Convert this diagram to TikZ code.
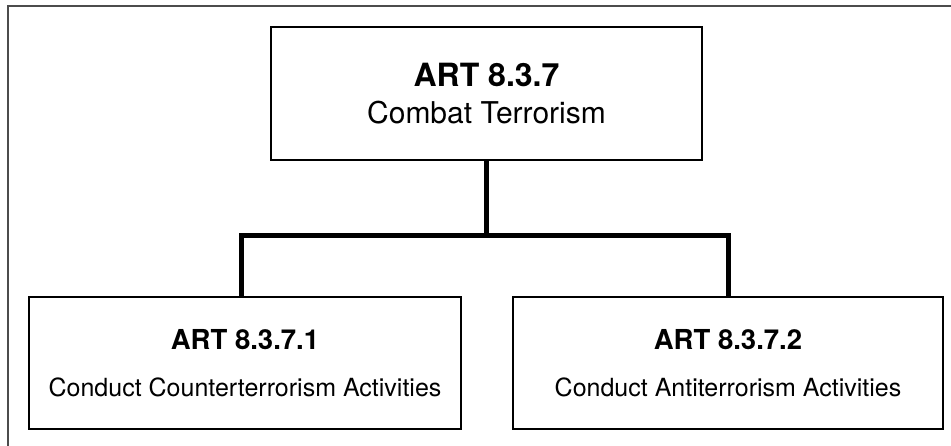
\documentclass[tikz,border=0pt]{standalone}
\usepackage{fontspec}
\setmainfont{TeX Gyre Heros}
\usetikzlibrary{positioning}
\tikzset{
  artbox/.style={draw=black,line width=2pt,fill=white,align=center,inner sep=0pt,minimum height=133pt},
  toptxt/.style={font=\fontsize{30pt}{37pt}\selectfont},
  subtxt/.style={font=\fontsize{25pt}{47pt}\selectfont},
  link/.style={draw=black,line width=5pt},
  frame/.style={draw=black!70,line width=1.3pt},
}

\begin{document}
\begin{tikzpicture}[x=1pt,y=-1pt]
\useasboundingbox (0,0) rectangle (951,446);
\draw[frame] (951,6) -| (8,446);
\node[artbox,toptxt,minimum width=431pt] (ct) at (486.5,93.5) {{\fontsize{32pt}{37pt}\selectfont\bfseries ART 8.3.7}\\Combat Terrorism};
\node[artbox,subtxt,minimum width=432pt,minimum height=132pt] (cl) at (245,363) {{\fontsize{27.5pt}{47pt}\selectfont\bfseries ART 8.3.7.1}\\Conduct Counterterrorism Activities};
\node[artbox,subtxt,right=50pt of cl,minimum width=430pt,minimum height=132pt] (cr) {{\fontsize{27.5pt}{47pt}\selectfont\bfseries ART 8.3.7.2}\\Conduct Antiterrorism Activities};
\coordinate (bus) at (486.5,235.5);
\draw[link] (ct) -- (bus);
\draw[link] ([xshift=-4pt]cl.north) |- (bus) -| (cr.north);
\end{tikzpicture}
\end{document}
